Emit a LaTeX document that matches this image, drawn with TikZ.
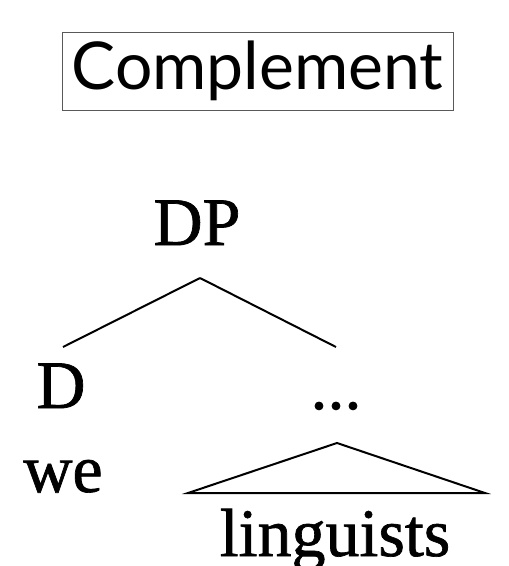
\documentclass[tikz,border=0pt]{standalone}
\usepackage{fontspec}
\setmainfont{Liberation Serif}
\newfontfamily\treefont[FakeBold=1]{Liberation Serif}
\newfontfamily\latofont{Lato}
\begin{document}
\begin{tikzpicture}[x=1pt, y=-1pt,
    every node/.style={inner sep=0pt, anchor=base, font=\treefont\fontsize{68}{68}\selectfont},
    titlebox/.style={draw=black!65, line width=1pt, anchor=center,
      minimum width=391pt, minimum height=78pt, font=\latofont\fontsize{66}{66}\selectfont},
    branch/.style={line width=2pt}]
    \useasboundingbox (0,0) rectangle (509,566);

    \node[titlebox] (title) at (257.5, 71) {Complement};

    \node (DP)   at (197, 245) {DP};
    \node (D)    at ( 61, 408) {D};
    \node (dots) at (336, 409) {...};
    \node (we)   at ( 63, 492) {we};
    \node (ling) at (335, 556) {linguists};

    \coordinate (top)   at (200, 278);
    \coordinate (Dend)  at ( 63, 347);
    \coordinate (dend)  at (336, 347);
    \coordinate (apex)  at (337, 443);
    \coordinate (left)  at (188, 493);
    \coordinate (right) at (485, 493);

    \draw[branch] (top) -- (Dend);
    \draw[branch] (top) -- (dend);
    \draw[branch] (apex) -- (left) -- (right) -- cycle;

  \end{tikzpicture}
\end{document}
